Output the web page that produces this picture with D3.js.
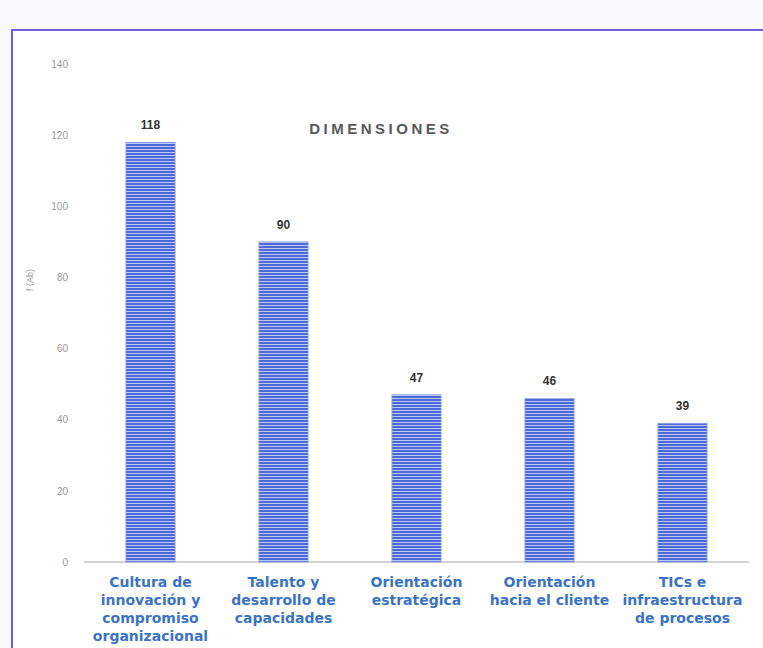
<!DOCTYPE html>
<html>
<head>
<meta charset="utf-8">
<script src="https://cdn.jsdelivr.net/npm/d3@7"></script>
<style>
  body { margin: 0; background: #f7f9fc; }
  svg { display: block; }
</style>
</head>
<body>
<div id="chart"></div>
<script>
// chart data
const categories = [
  "Cultura de innovación y compromiso organizacional",
  "Talento y desarrollo de capacidades",
  "Orientación estratégica",
  "Orientación hacia el cliente",
  "TICs e infraestructura de procesos"
];
// label lines as drawn under each bar
const categoryLines = [
  ["Cultura de", "innovación y", "compromiso", "organizacional"],
  ["Talento y", "desarrollo de", "capacidades"],
  ["Orientación", "estratégica"],
  ["Orientación", "hacia el cliente"],
  ["TICs e", "infraestructura", "de procesos"]
];
const values = [118, 90, 47, 46, 39];
const yTicks = [0, 20, 40, 60, 80, 100, 120, 140];

const width = 763, height = 648;
const margin = { top: 64, right: 14, bottom: 86, left: 84 };

const svg = d3.select("#chart").append("svg")
  .attr("width", width)
  .attr("height", height);

// hatched bar fill
const defs = svg.append("defs");
const pat = defs.append("pattern")
  .attr("id", "stripes")
  .attr("patternUnits", "userSpaceOnUse")
  .attr("width", 6).attr("height", 3);
pat.append("rect").attr("width", 6).attr("height", 3).attr("fill", "#bccaf3");
pat.append("rect").attr("width", 6).attr("height", 2).attr("fill", "#4d69d8");

// white plot panel with purple frame
svg.append("rect")
  .attr("x", 12).attr("y", 30)
  .attr("width", 800).attr("height", 700)
  .attr("fill", "#ffffff")
  .attr("stroke", "#6a5fe0")
  .attr("stroke-width", 2);

const x = d3.scaleBand()
  .domain(categories)
  .range([margin.left, width - margin.right])
  .paddingInner(0.63)
  .paddingOuter(0.315);

const y = d3.scaleLinear()
  .domain([0, 140])
  .range([height - margin.bottom, margin.top]);

// y axis labels only
const yAxis = svg.append("g")
  .attr("transform", `translate(${margin.left - 10},0)`)
  .call(d3.axisLeft(y).tickValues(yTicks).tickSize(0).tickPadding(6));
yAxis.select(".domain").remove();
yAxis.selectAll("text")
  .attr("fill", "#9a9a9a")
  .style("font-family", "Liberation Sans, Arial, sans-serif")
  .style("font-size", "10px");

// y axis title
svg.append("text")
  .attr("transform", `translate(33,280) rotate(-90)`)
  .attr("text-anchor", "middle")
  .attr("fill", "#9a9a9a")
  .style("font-family", "Liberation Sans, Arial, sans-serif")
  .style("font-size", "9px")
  .text("f (Ab)");

// baseline
svg.append("line")
  .attr("x1", margin.left).attr("x2", width - margin.right)
  .attr("y1", y(0)).attr("y2", y(0))
  .attr("stroke", "#a6a6a6")
  .attr("stroke-width", 1);

// bars
svg.selectAll(".bar")
  .data(values)
  .join("rect")
  .attr("class", "bar")
  .attr("x", (d, i) => x(categories[i]))
  .attr("y", d => y(d))
  .attr("width", x.bandwidth())
  .attr("height", d => y(0) - y(d))
  .attr("fill", "url(#stripes)")
  .attr("stroke", "#8fa6ea")
  .attr("stroke-width", 0.8);

// value labels
svg.selectAll(".val")
  .data(values)
  .join("text")
  .attr("class", "val")
  .attr("x", (d, i) => x(categories[i]) + x.bandwidth() / 2)
  .attr("y", d => y(d) - 13)
  .attr("text-anchor", "middle")
  .attr("fill", "#333333")
  .style("font-family", "Liberation Sans, Arial, sans-serif")
  .style("font-size", "12px")
  .style("font-weight", "bold")
  .text(d => d);

// category labels
const cat = svg.selectAll(".cat")
  .data(categoryLines)
  .join("text")
  .attr("class", "cat")
  .attr("x", (d, i) => x(categories[i]) + x.bandwidth() / 2)
  .attr("y", y(0) + 25)
  .attr("text-anchor", "middle")
  .attr("fill", "#3a73c6")
  .style("font-family", "DejaVu Sans, Verdana, sans-serif")
  .style("font-size", "14px")
  .style("font-weight", "bold");
cat.selectAll("tspan")
  .data((d, i) => d.map(t => ({ t, i })))
  .join("tspan")
  .attr("x", d => x(categories[d.i]) + x.bandwidth() / 2)
  .attr("dy", (d, j) => j === 0 ? 0 : 18)
  .text(d => d.t);

// chart title
svg.append("text")
  .attr("x", 381)
  .attr("y", 134)
  .attr("text-anchor", "middle")
  .attr("fill", "#595959")
  .style("font-family", "Liberation Sans, Arial, sans-serif")
  .style("font-size", "15px")
  .style("font-weight", "bold")
  .style("letter-spacing", "3.5px")
  .text("DIMENSIONES");
</script>
</body>
</html>
